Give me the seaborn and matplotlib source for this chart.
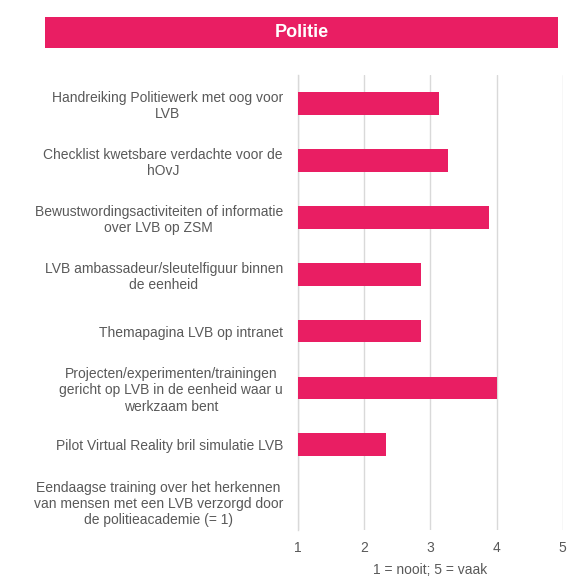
import numpy as np
import pandas as pd
import matplotlib
matplotlib.use('Agg')
import matplotlib.pyplot as plt
import seaborn as sns
from matplotlib.patches import Rectangle

# --- data ---
labels = [
    'Handreiking Politiewerk met oog voor\nLVB',
    'Checklist kwetsbare verdachte voor de\nhOvJ',
    'Bewustwordingsactiviteiten of informatie\nover LVB op ZSM',
    'LVB ambassadeur/sleutelfiguur binnen\nde eenheid',
    'Themapagina LVB op intranet',
    'Projecten/experimenten/trainingen\ngericht op LVB in de eenheid waar u\nwerkzaam bent',
    'Pilot Virtual Reality bril simulatie LVB',
    'Eendaagse training over het herkennen\nvan mensen met een LVB verzorgd door\nde politieacademie (= 1)',
]
scores = [3.13, 3.26, 3.88, 2.85, 2.85, 4.0, 2.33, 1.0]
xticks = [1, 2, 3, 4, 5]
title = 'Politie'
xlabel = '1 = nooit; 5 = vaak'

PINK = '#E91E63'
GREY_TXT = '#595959'

sns.set_style('white')
plt.rcParams['font.family'] = ['Liberation Sans', 'DejaVu Sans']

df = pd.DataFrame({'label': labels, 'score': scores})

fig = plt.figure(figsize=(5.69, 5.78), dpi=100)
ax = fig.add_axes([0.524, 0.083, 0.465, 0.787])

sns.barplot(data=df, y='label', x='score', orient='h', color=PINK,
            width=0.4, saturation=1, linewidth=0, ax=ax, zorder=3)

ax.set_xlim(1, 5)
ax.set_ylim(7.5, -0.5)
ax.set_xticks(xticks)
ax.set_xticklabels([str(t) for t in xticks], fontsize=10, color=GREY_TXT)
ax.set_yticks(range(len(labels)))
ax.set_yticklabels(labels, fontsize=10, color=GREY_TXT, multialignment='center',
                   linespacing=1.2)
ax.tick_params(axis='both', length=0)
ax.tick_params(axis='y', pad=11)
ax.tick_params(axis='x', pad=8)
ax.set_ylabel('')
ax.set_xlabel(xlabel, fontsize=10, color=GREY_TXT, labelpad=6)

ax.grid(axis='x', color='#D9D9D9', linewidth=1, zorder=0)
ax.grid(axis='y', visible=False)
for s in ['top', 'right', 'bottom']:
    ax.spines[s].set_visible(False)
ax.spines['left'].set_color('#D9D9D9')
ax.spines['left'].set_linewidth(1)

# title banner
fig.patches.append(Rectangle((45 / 569, 1 - 48 / 578), (558 - 45) / 569, 31 / 578,
                             transform=fig.transFigure, facecolor=PINK,
                             edgecolor='none', zorder=0))
fig.text((45 + 558) / 2 / 569, 1 - 32.5 / 578, title, color='white',
         fontsize=13, fontweight='bold', ha='center', va='center')

fig.savefig('out.png', dpi=100)
